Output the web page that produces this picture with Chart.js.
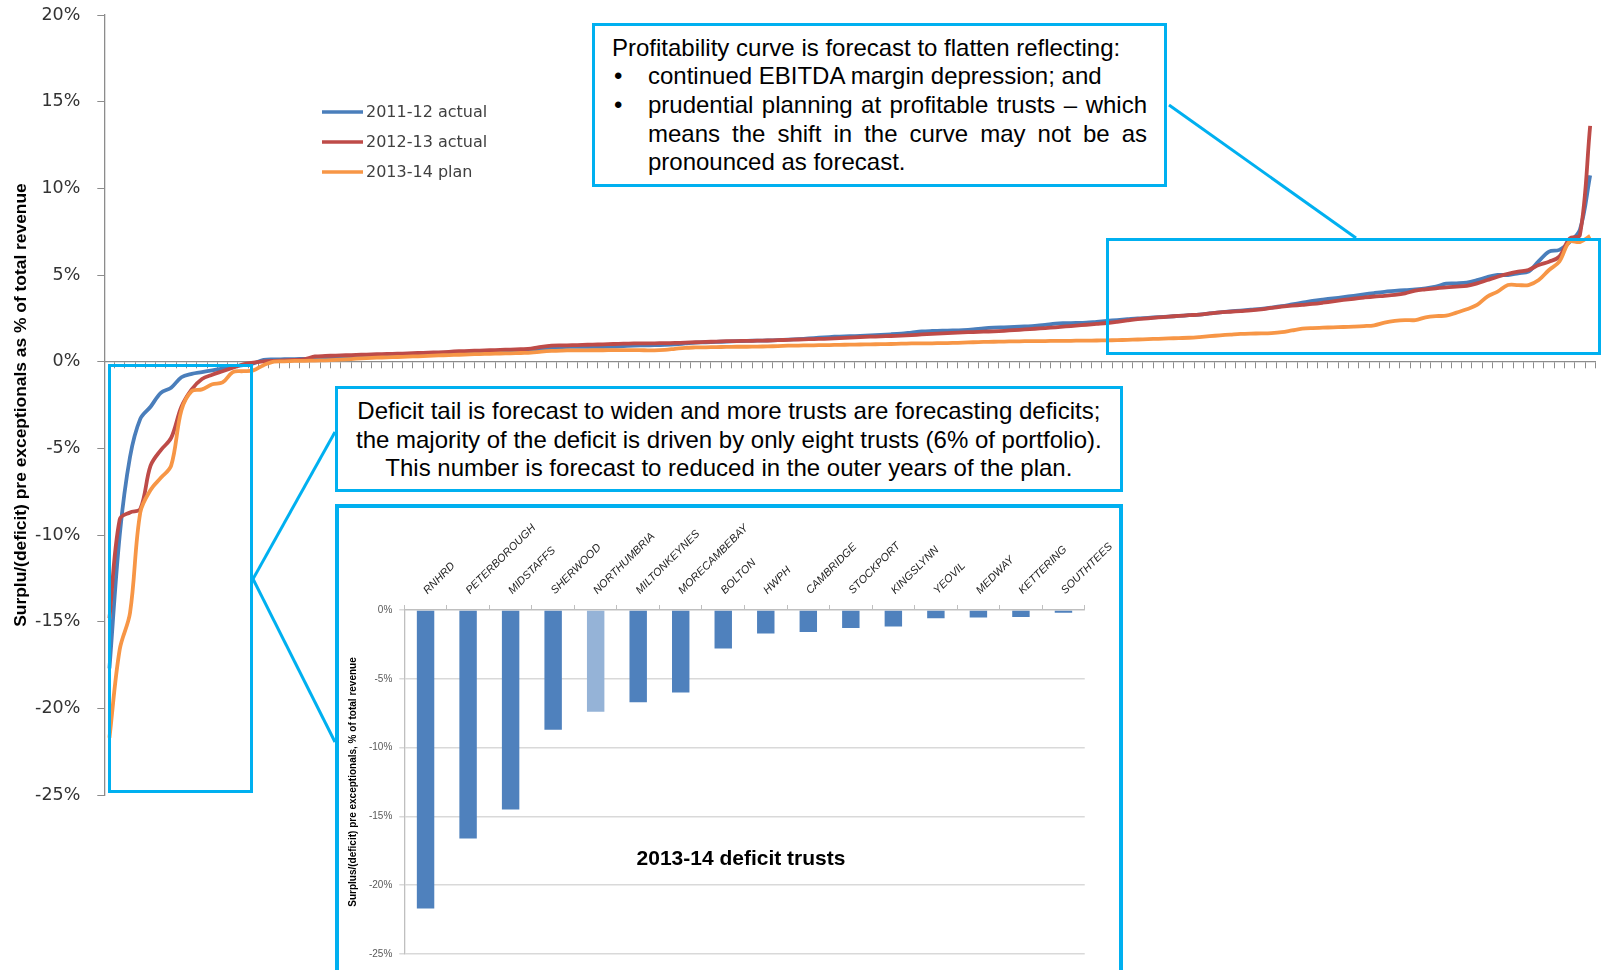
<!DOCTYPE html>
<html>
<head>
<meta charset="utf-8">
<script src="https://cdn.jsdelivr.net/npm/chart.js@4.4.1/dist/chart.umd.min.js"></script>
<style>
html,body{margin:0;padding:0;background:#fff;width:1605px;height:970px;overflow:hidden;position:relative;}
canvas{position:absolute;}
.box{position:absolute;box-sizing:border-box;border:3px solid #00b0f0;}
.txt{font-family:"Liberation Sans",Arial,sans-serif;font-size:24px;line-height:28.7px;color:#000;}
.b{position:relative;padding-left:36px;}
.dot{position:absolute;left:2px;top:0;}
svg{position:absolute;left:0;top:0;}
</style>
</head>
<body>
<canvas id="main" width="1605" height="970" style="left:0;top:0;width:1605px;height:970px;"></canvas>

<div class="box" style="left:1106px;top:238px;width:495px;height:117px;"></div>
<div class="box" style="left:107.5px;top:364px;width:145.3px;height:429.3px;"></div>

<div class="box txt" style="left:591.6px;top:22.5px;width:575.4px;height:164.8px;padding:8px 17px 0 17.4px;background:#fff;">
  <div>Profitability curve is forecast to flatten reflecting:</div>
  <div class="b"><span class="dot">•</span>continued EBITDA margin depression; and</div>
  <div class="b" style="text-align:justify;text-align-last:left;"><span class="dot">•</span>prudential planning at profitable trusts – which means the shift in the curve may not be as pronounced as forecast.</div>
</div>

<div class="box txt" style="left:334.7px;top:386px;width:788.3px;height:106.4px;padding-top:8px;text-align:center;background:#fff;">
  Deficit tail is forecast to widen and more trusts are forecasting deficits;<br>
  the majority of the deficit is driven by only eight trusts (6% of portfolio).<br>
  This number is forecast to reduced in the outer years of the plan.
</div>

<div class="box" style="left:334.7px;top:503.6px;width:788.3px;height:520px;border-width:4px;background:#fff;"></div>
<canvas id="inset" width="782" height="462" style="left:338px;top:508px;width:782px;height:462px;"></canvas>

<svg width="1605" height="970">
  <g stroke="#00b0f0" stroke-width="3" fill="none">
    <line x1="1169" y1="105" x2="1356" y2="238"/>
    <line x1="253" y1="579" x2="335" y2="432"/>
    <line x1="253" y1="579" x2="335" y2="742"/>
  </g>
</svg>

<script>
// ---- Main chart data (sorted surplus/(deficit) % of revenue per trust) ----
const actual2011_12 = [
  -17.7, -10.0, -5.5, -3.3, -2.6, -1.8, -1.5, -0.9, -0.7, -0.6,
  -0.5, -0.4, -0.3, -0.2, -0.1, 0.1, 0.13, 0.14, 0.15, 0.16,
  0.17, 0.2, 0.23, 0.26, 0.29, 0.31, 0.33, 0.35, 0.37, 0.39,
  0.41, 0.43, 0.45, 0.48, 0.5, 0.52, 0.53, 0.55, 0.56, 0.58,
  0.6, 0.62, 0.72, 0.8, 0.84, 0.85, 0.85, 0.86, 0.86, 0.87,
  0.9, 0.93, 0.94, 0.95, 0.97, 1.0, 1.05, 1.1, 1.12, 1.14,
  1.16, 1.18, 1.2, 1.21, 1.22, 1.24, 1.27, 1.3, 1.34, 1.38,
  1.42, 1.45, 1.47, 1.49, 1.52, 1.55, 1.58, 1.62, 1.68, 1.74,
  1.77, 1.79, 1.8, 1.82, 1.86, 1.92, 1.96, 1.98, 2.0, 2.03,
  2.06, 2.12, 2.2, 2.22, 2.23, 2.25, 2.3, 2.35, 2.4, 2.45,
  2.5, 2.53, 2.57, 2.6, 2.64, 2.68, 2.72, 2.78, 2.84, 2.9,
  2.95, 3.0, 3.05, 3.12, 3.2, 3.3, 3.4, 3.5, 3.58, 3.65,
  3.72, 3.8, 3.88, 3.96, 4.03, 4.08, 4.13, 4.17, 4.23, 4.33,
  4.5, 4.52, 4.56, 4.7, 4.88, 5.0, 5.0, 5.1, 5.2, 5.8,
  6.35, 6.45, 6.9, 7.6, 10.75
];
const actual2012_13 = [
  -14.8, -9.1, -8.7, -8.5, -6.0, -5.1, -4.4, -2.6, -1.6, -1.0,
  -0.75, -0.55, -0.35, -0.15, -0.05, 0.02, 0.05, 0.08, 0.1, 0.15,
  0.3, 0.33, 0.35, 0.37, 0.39, 0.41, 0.43, 0.45, 0.46, 0.48,
  0.5, 0.52, 0.54, 0.57, 0.6, 0.62, 0.64, 0.66, 0.68, 0.7,
  0.72, 0.75, 0.85, 0.92, 0.94, 0.95, 0.97, 0.98, 1.0, 1.02,
  1.04, 1.05, 1.06, 1.06, 1.07, 1.08, 1.1, 1.12, 1.14, 1.16,
  1.18, 1.19, 1.2, 1.21, 1.22, 1.24, 1.26, 1.28, 1.3, 1.31,
  1.33, 1.36, 1.39, 1.42, 1.44, 1.46, 1.48, 1.5, 1.53, 1.57,
  1.6, 1.63, 1.66, 1.69, 1.71, 1.73, 1.75, 1.78, 1.82, 1.86,
  1.9, 1.94, 1.98, 2.03, 2.08, 2.13, 2.18, 2.23, 2.3, 2.38,
  2.45, 2.5, 2.55, 2.6, 2.64, 2.68, 2.72, 2.78, 2.84, 2.88,
  2.92, 2.96, 3.02, 3.1, 3.17, 3.23, 3.28, 3.33, 3.4, 3.48,
  3.56, 3.63, 3.7, 3.76, 3.8, 3.85, 3.94, 4.1, 4.17, 4.23,
  4.29, 4.33, 4.37, 4.52, 4.71, 4.9, 5.06, 5.19, 5.29, 5.58,
  5.77, 6.06, 7.1, 7.3, 13.6
];
const plan2013_14 = [
  -21.7, -16.6, -14.5, -8.7, -7.4, -6.7, -6.0, -2.8, -1.7, -1.6,
  -1.3, -1.2, -0.6, -0.55, -0.5, -0.2, 0.0, 0.02, 0.04, 0.05,
  0.06, 0.08, 0.1, 0.13, 0.17, 0.2, 0.23, 0.25, 0.27, 0.29,
  0.31, 0.33, 0.36, 0.38, 0.4, 0.42, 0.44, 0.45, 0.47, 0.48,
  0.5, 0.52, 0.58, 0.62, 0.64, 0.65, 0.65, 0.66, 0.66, 0.67,
  0.67, 0.67, 0.66, 0.65, 0.68, 0.74, 0.8, 0.82, 0.83, 0.84,
  0.85, 0.86, 0.86, 0.87, 0.88, 0.9, 0.92, 0.93, 0.94, 0.95,
  0.96, 0.97, 0.98, 0.99, 1.0, 1.01, 1.02, 1.04, 1.05, 1.06,
  1.06, 1.07, 1.08, 1.1, 1.12, 1.14, 1.15, 1.16, 1.17, 1.18,
  1.19, 1.19, 1.2, 1.2, 1.21, 1.21, 1.22, 1.23, 1.24, 1.26,
  1.28, 1.3, 1.32, 1.34, 1.36, 1.38, 1.42, 1.47, 1.52, 1.56,
  1.6, 1.62, 1.63, 1.65, 1.7, 1.8, 1.9, 1.94, 1.96, 1.98,
  2.0, 2.02, 2.05, 2.1, 2.25, 2.35, 2.4, 2.4, 2.56, 2.63,
  2.65, 2.83, 3.02, 3.27, 3.75, 4.04, 4.42, 4.42, 4.42, 4.71,
  5.29, 5.77, 6.92, 6.9, 7.25
];
const seriesNames = ['2011-12 actual', '2012-13 actual', '2013-14 plan'];
const trustRanks = actual2011_12.map((_, i) => String(i + 1));
const mainYTicks = [-25, -20, -15, -10, -5, 0, 5, 10, 15, 20];

// ---- Inset chart data ----
const deficitTrusts = ['RNHRD','PETERBOROUGH','MIDSTAFFS','SHERWOOD','NORTHUMBRIA','MILTONKEYNES','MORECAMBEBAY','BOLTON','HWPH','CAMBRIDGE','STOCKPORT','KINGSLYNN','YEOVIL','MEDWAY','KETTERING','SOUTHTEES'];
const deficit2013_14 = [-21.7, -16.6, -14.5, -8.7, -7.4, -6.7, -6.0, -2.8, -1.7, -1.6, -1.3, -1.2, -0.6, -0.55, -0.5, -0.2];
const insetYTicks = [-25, -20, -15, -10, -5, 0];

const colors = ['#4a7ebb', '#be4b48', '#f79646'];

const legendPlugin = {
  id: 'inlineLegend',
  afterDatasetsDraw(chart) {
    const ctx = chart.ctx;
    const rows = [112, 142, 172];
    ctx.save();
    chart.data.datasets.forEach((ds, i) => {
      const y = rows[i];
      ctx.strokeStyle = ds.borderColor;
      ctx.lineWidth = 3.5;
      ctx.lineCap = 'butt';
      ctx.beginPath(); ctx.moveTo(322, y); ctx.lineTo(363, y); ctx.stroke();
      ctx.fillStyle = '#404040';
      ctx.font = '16px "DejaVu Sans"';
      ctx.textBaseline = 'middle';
      ctx.textAlign = 'left';
      ctx.fillText(ds.label, 366, y + 1);
    });
    ctx.restore();
  }
};

new Chart(document.getElementById('main'), {
  type: 'line',
  data: {
    labels: trustRanks,
    datasets: [
      { label: seriesNames[0], data: actual2011_12, borderColor: colors[0], backgroundColor: colors[0], order: 3 },
      { label: seriesNames[1], data: actual2012_13, borderColor: colors[1], backgroundColor: colors[1], order: 2 },
      { label: seriesNames[2], data: plan2013_14, borderColor: colors[2], backgroundColor: colors[2], order: 1 }
    ]
  },
  options: {
    responsive: false, animation: false, devicePixelRatio: 1,
    layout: { padding: { top: 15, bottom: 175, right: 9.7, left: 0 } },
    plugins: { legend: { display: false }, tooltip: { enabled: false } },
    elements: { point: { radius: 0 }, line: { borderWidth: 3.8, tension: 0.35 } },
    scales: {
      x: {
        type: 'category', position: { y: 0 }, offset: true,
        grid: { offset: true, drawOnChartArea: false, drawTicks: true, tickLength: 6, tickColor: '#8c8c8c', lineWidth: 1 },
        border: { color: '#8c8c8c', width: 1.3 },
        ticks: { display: false, autoSkip: false }
      },
      y: {
        min: -25, max: 20,
        afterBuildTicks(s) { s.ticks = mainYTicks.map(v => ({ value: v })); },
        afterFit(s) { s.width = 104.3; s.paddingTop = 0; s.paddingBottom = 0; },
        ticks: { callback: v => v + '%', color: '#333', font: { family: 'DejaVu Sans', size: 17.5 }, padding: 17 },
        grid: { drawOnChartArea: false, tickLength: 7, tickColor: '#8c8c8c' },
        border: { color: '#8c8c8c', width: 1.3 },
        title: { display: true, text: 'Surplu/(deficit) pre exceptionals as % of total revenue', color: '#000',
                 font: { family: 'Liberation Sans', size: 17.4, weight: 'bold' }, padding: { top: 11, bottom: 0 } }
      }
    }
  },
  plugins: [legendPlugin]
});

const insetTitlePlugin = {
  id: 'insetTitle',
  afterDraw(chart) {
    const ctx = chart.ctx;
    ctx.save();
    ctx.fillStyle = '#000';
    ctx.font = 'bold 21px "Liberation Sans"';
    ctx.textAlign = 'center';
    ctx.textBaseline = 'middle';
    ctx.fillText('2013-14 deficit trusts', 403, 351);
    ctx.restore();
  }
};

new Chart(document.getElementById('inset'), {
  type: 'bar',
  data: {
    labels: deficitTrusts,
    datasets: [{
      label: '2013-14 plan',
      data: deficit2013_14,
      backgroundColor: deficitTrusts.map(n => n === 'NORTHUMBRIA' ? '#95b3d7' : '#4f81bd'),
      borderWidth: 0,
      barPercentage: 0.41, categoryPercentage: 1
    }]
  },
  options: {
    responsive: false, animation: false, devicePixelRatio: 1,
    layout: { padding: { top: 0, bottom: 16, right: 32, left: 0 } },
    plugins: { legend: { display: false }, tooltip: { enabled: false } },
    scales: {
      x: {
        position: 'top', offset: true,
        afterFit(s) { s.height = 102; },
        grid: { offset: true, drawOnChartArea: false, tickLength: 5, tickColor: '#bfbfbf' },
        border: { color: '#bfbfbf', width: 1.3 },
        ticks: { autoSkip: false, minRotation: 45, maxRotation: 45, padding: 8, labelOffset: 9, color: '#262626',
                 font: { family: 'Liberation Sans', size: 11, style: 'italic' } }
      },
      y: {
        min: -25, max: 0,
        afterBuildTicks(s) { s.ticks = insetYTicks.map(v => ({ value: v })); },
        afterFit(s) { s.width = 66.3; s.paddingTop = 0; s.paddingBottom = 0; },
        ticks: { callback: v => v + '%', color: '#595959', font: { family: 'Liberation Sans', size: 10 }, padding: 7 },
        grid: { color: '#d9d9d9', lineWidth: 1.5, tickLength: 5 },
        border: { color: '#bfbfbf', width: 1.3 },
        title: { display: true, text: 'Surplus/(deficit) pre exceptionals, % of total revenue', color: '#000',
                 font: { family: 'Liberation Sans', size: 10, weight: 'bold' }, padding: { top: 9, bottom: 0 } }
      }
    }
  },
  plugins: [insetTitlePlugin]
});
</script>
</body>
</html>
